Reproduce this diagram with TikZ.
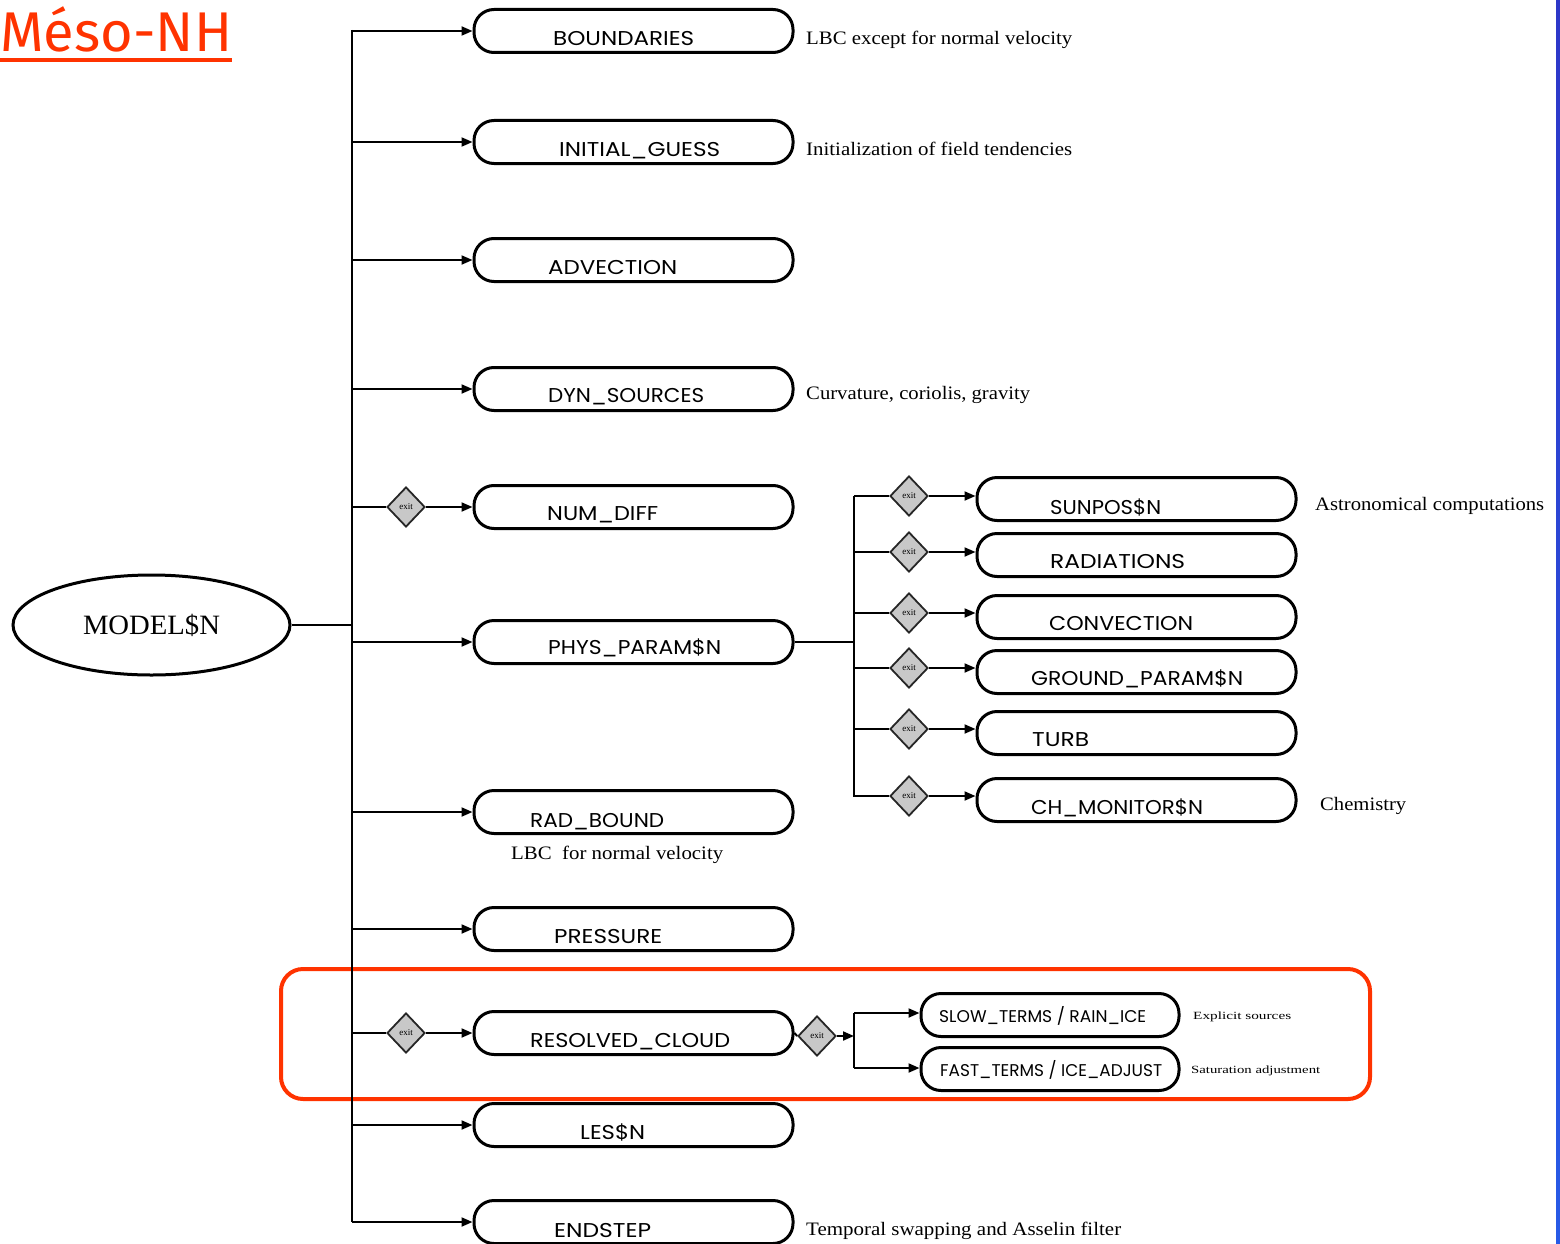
\documentclass[tikz,border=0pt]{standalone}
\usepackage{fontspec}
\setmainfont{Liberation Serif}
\newfontfamily\boxfont{Poppins}
\newfontfamily\titlefont{Fira Sans}
\usetikzlibrary{arrows.meta,shapes.geometric}
\newdimen\fitlen
\newcommand\fitto[2]{\settowidth\fitlen{#2}\scalebox{\fpeval{#1/\fitlen}}[1]{#2}}
\definecolor{titlered}{RGB}{255,51,0}
\definecolor{diagray}{RGB}{200,200,200}
\definecolor{barblueA}{RGB}{45,55,200}
\definecolor{barblueB}{RGB}{40,90,230}
\begin{document}
\begin{tikzpicture}[x=1pt,y=-1pt,
  box/.style={draw, line width=3pt, rounded corners=20pt, minimum width=319pt, minimum height=43pt, inner sep=0pt},
  sbox/.style={draw, line width=3pt, rounded corners=20pt, minimum width=258pt, minimum height=43pt, inner sep=0pt},
  dia/.style={diamond, draw=black!85, fill=diagray, line width=1.8pt, minimum width=38pt, minimum height=40pt, inner sep=0pt, font=\fontsize{9}{9}\selectfont},
  conn/.style={line width=2pt},
  arr/.style={conn, -{Triangle[length=11pt,width=9pt]}},
  lbl/.style={anchor=base west, inner sep=0pt, font=\boxfont\fontsize{20}{20}\selectfont},
  slbl/.style={anchor=base west, inner sep=0pt, font=\boxfont\fontsize{17}{17}\selectfont},
  note/.style={anchor=base west, inner sep=0pt, font=\fontsize{19}{19}\selectfont},
  snote/.style={anchor=base west, inner sep=0pt, font=\fontsize{11}{11}\selectfont}]
\useasboundingbox (0,0) rectangle (1560,1244);

% title
\node[anchor=base west, inner sep=0pt, text=titlered, font=\titlefont\fontsize{56}{56}\selectfont] (title) at (0,52) {\fitto{232}{Méso-NH}};
\coordinate (ulA) at (0,60);
\coordinate (ulB) at (232,60);
\draw[titlered, line width=4.5pt] (ulA) -- (ulB);

% right blue bar
\shade[top color=barblueA, bottom color=barblueB] (1556,0) rectangle (1560,1244);

% highlight frame
\node[draw=titlered, line width=4pt, rounded corners=22pt, minimum width=1089pt, minimum height=130pt, inner sep=0pt] (hl) at (825.5,1034) {};

% root
\node[ellipse, draw, line width=3pt, minimum width=277pt, minimum height=100pt, inner sep=0pt, font=\fontsize{28}{28}\selectfont] (model) at (151.5,625) {\fitto{137}{MODEL\$N}};

% left trunk
\coordinate (tTop) at (352,30);
\coordinate (tBot) at (352,1222);
\coordinate (tModel) at (352,625);
\draw[conn] (tTop) -- (tBot);
\draw[conn] (model.east) -- (tModel);

% left boxes
\node[box] (bnd) at (633.5,31) {};
\node[box] (ini) at (633.5,142) {};
\node[box] (adv) at (633.5,260) {};
\node[box] (dyn) at (633.5,389) {};
\node[box] (num) at (633.5,507) {};
\node[box] (phy) at (633.5,642) {};
\node[box] (rad) at (633.5,812) {};
\node[box] (pre) at (633.5,929) {};
\node[box] (res) at (633.5,1033) {};
\node[box] (les) at (633.5,1125) {};
\node[box] (end) at (633.5,1222) {};

\foreach \n/\y in {bnd/31,ini/142,adv/260,dyn/389,num/507,phy/642,rad/812,pre/929,res/1033,les/1125,end/1222}{
  \coordinate (j\n) at (352,\y);
}
\draw[arr] (jbnd) -- (bnd.west);
\draw[arr] (jini) -- (ini.west);
\draw[arr] (jadv) -- (adv.west);
\draw[arr] (jdyn) -- (dyn.west);
\node[dia] (dnum) at (406,507) {exit};
\draw[conn] (jnum) -- (dnum.west);
\draw[arr] (dnum.east) -- (num.west);
\draw[arr] (jphy) -- (phy.west);
\draw[arr] (jrad) -- (rad.west);
\draw[arr] (jpre) -- (pre.west);
\node[dia] (dres) at (406,1033) {exit};
\draw[conn] (jres) -- (dres.west);
\draw[arr] (dres.east) -- (res.west);
\draw[arr] (jles) -- (les.west);
\draw[arr] (jend) -- (end.west);

% left labels
\node[lbl] (lbnd) at (553,46) {\fitto{141}{BOUNDARIES}};
\node[lbl] (lini) at (559,157) {\fitto{161}{INITIAL\_GUESS}};
\node[lbl] (ladv) at (548,274) {\fitto{129}{ADVECTION}};
\node[lbl] (ldyn) at (548,402) {\fitto{156}{DYN\_SOURCES}};
\node[lbl] (lnum) at (547,520) {\fitto{111}{NUM\_DIFF}};
\node[lbl] (lphy) at (548,654) {\fitto{173}{PHYS\_PARAM\$N}};
\node[lbl] (lrad) at (530,827) {\fitto{134}{RAD\_BOUND}};
\node[lbl] (lpre) at (554,943) {\fitto{108}{PRESSURE}};
\node[lbl] (lres) at (530,1047) {\fitto{200}{RESOLVED\_CLOUD}};
\node[lbl] (lles) at (580,1139) {\fitto{65}{LES\$N}};
\node[lbl] (lend) at (554,1237) {\fitto{97}{ENDSTEP}};

% right trunk (physics)
\coordinate (rTop) at (854,496);
\coordinate (rBot) at (854,797);
\coordinate (rPhy) at (854,642);
\draw[conn] (rTop) -- (rBot);
\draw[conn] (phy.east) -- (rPhy);

\foreach \n/\y in {sun/499,rdn/555,cnv/617,grd/672,trb/733,chm/800}{
  \node[box] (\n) at (1136.5,\y) {};
}
\foreach \n/\y in {sun/496,rdn/552,cnv/613,grd/668,trb/729,chm/796}{
  \coordinate (j\n) at (854,\y);
  \node[dia] (d\n) at (909,\y) {exit};
}
\draw[conn] (jsun) -- (dsun.west);
\draw[conn] (jrdn) -- (drdn.west);
\draw[conn] (jcnv) -- (dcnv.west);
\draw[conn] (jgrd) -- (dgrd.west);
\draw[conn] (jtrb) -- (dtrb.west);
\draw[conn] (jchm) -- (dchm.west);
\draw[arr] (dsun.east) -- (dsun.east -| sun.west);
\draw[arr] (drdn.east) -- (drdn.east -| rdn.west);
\draw[arr] (dcnv.east) -- (dcnv.east -| cnv.west);
\draw[arr] (dgrd.east) -- (dgrd.east -| grd.west);
\draw[arr] (dtrb.east) -- (dtrb.east -| trb.west);
\draw[arr] (dchm.east) -- (dchm.east -| chm.west);

\node[lbl] (lsun) at (1050,514) {\fitto{111}{SUNPOS\$N}};
\node[lbl] (lrdn) at (1050,568) {\fitto{135}{RADIATIONS}};
\node[lbl] (lcnv) at (1049,630) {\fitto{144}{CONVECTION}};
\node[lbl] (lgrd) at (1031,685) {\fitto{212}{GROUND\_PARAM\$N}};
\node[lbl] (ltrb) at (1032,746) {\fitto{57}{TURB}};
\node[lbl] (lchm) at (1031,814) {\fitto{172}{CH\_MONITOR\$N}};

% resolved cloud branch
\node[dia] (dcl) at (817,1036) {exit};
\draw[conn] (res.east) -- (dcl.west);
\coordinate (cTop) at (854,1013);
\coordinate (cBot) at (854,1068);
\coordinate (cMid) at (854,1036);
\draw[arr] (dcl.east) -- (cMid);
\draw[conn] (cTop) -- (cBot);
\node[sbox] (slow) at (1050,1015) {};
\node[sbox] (fast) at (1050,1069) {};
\draw[arr] (cTop) -- (cTop -| slow.west);
\draw[arr] (cBot) -- (cBot -| fast.west);
\node[slbl] (lslow) at (939,1022) {\fitto{207}{SLOW\_TERMS / RAIN\_ICE}};
\node[slbl] (lfast) at (940,1076) {\fitto{222}{FAST\_TERMS / ICE\_ADJUST}};

% annotations
\node[note] (n1) at (806,45) {\fitto{266}{LBC except for normal velocity}};
\node[note] (n2) at (806,155) {\fitto{266}{Initialization of field tendencies}};
\node[note] (n3) at (806,399) {\fitto{224}{Curvature, coriolis, gravity}};
\node[note] (n4) at (1315,510) {\fitto{229}{Astronomical computations}};
\node[note] (n5) at (1320,810) {\fitto{86}{Chemistry}};
\node[note] (n6) at (511,859) {\fitto{212}{LBC\ \ for normal velocity}};
\node[note] (n7) at (806,1235) {\fitto{315}{Temporal swapping and Asselin filter}};
\node[snote] (n8) at (1193,1019) {\fitto{98}{Explicit sources}};
\node[snote] (n9) at (1191,1073) {\fitto{129}{Saturation adjustment}};
\end{tikzpicture}
\end{document}
